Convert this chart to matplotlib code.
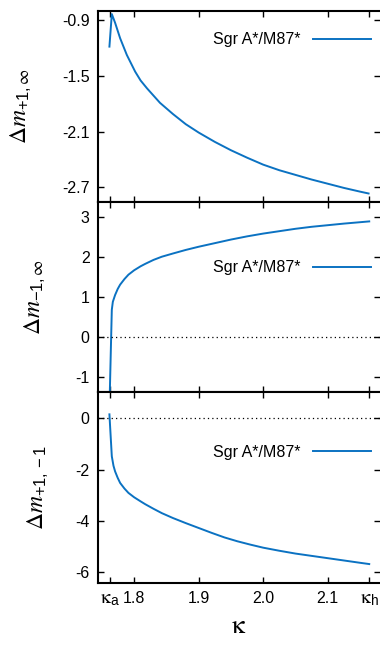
import numpy as np
import matplotlib
matplotlib.use("Agg")
import matplotlib.pyplot as plt

plt.rcParams['font.family'] = ['Liberation Sans', 'DejaVu Sans']
plt.rcParams['mathtext.fontset'] = 'stix'

# valores
kappa_a = 1.7628
kappa_h = 2.1643
leyenda = 'Sgr A*/M87*'

k1 = [1.7617, 1.7654, 1.7705, 1.7783, 1.7887, 1.8016, 1.81, 1.82, 1.84, 1.86,
      1.88, 1.90, 1.925, 1.95, 1.975, 2.00, 2.025, 2.05, 2.075, 2.10, 2.125,
      2.15, 2.1633]
d1 = [-1.186, -0.836, -0.93, -1.096, -1.276, -1.455, -1.55, -1.635, -1.79, -1.91,
      -2.02, -2.11, -2.21, -2.30, -2.38, -2.455, -2.515, -2.565, -2.615, -2.66,
      -2.705, -2.745, -2.765]

k2 = [1.7617, 1.7654, 1.767, 1.7705, 1.7745, 1.7783, 1.785, 1.7912, 1.80, 1.81,
      1.8171, 1.83, 1.8429, 1.86, 1.88, 1.90, 1.925, 1.95, 1.975, 2.00, 2.025,
      2.05, 2.075, 2.10, 2.125, 2.15, 2.1643]
d2 = [-1.8, 0.68, 0.88, 1.05, 1.20, 1.31, 1.45, 1.56, 1.67, 1.77,
      1.83, 1.93, 2.01, 2.09, 2.18, 2.26, 2.35, 2.44, 2.52, 2.59, 2.65,
      2.71, 2.76, 2.80, 2.84, 2.875, 2.895]

k3 = [1.7617, 1.7654, 1.768, 1.7705, 1.7745, 1.7783, 1.785, 1.7912, 1.80, 1.81,
      1.8171, 1.83, 1.8429, 1.86, 1.88, 1.90, 1.92, 1.94, 1.96, 1.98, 2.00,
      2.025, 2.05, 2.075, 2.10, 2.125, 2.15, 2.1643]
d3 = [0.16, -1.48, -1.85, -2.07, -2.32, -2.52, -2.74, -2.91, -3.08, -3.24,
      -3.35, -3.53, -3.70, -3.89, -4.09, -4.28, -4.47, -4.65, -4.80, -4.93, -5.05,
      -5.17, -5.28, -5.37, -5.46, -5.55, -5.64, -5.69]

xticks = [kappa_a, 1.8, 1.9, 2.0, 2.1, kappa_h]
xticklabels = [r'$\mathrm{\kappa}_{\mathregular{a}}$', '1.8', '1.9', '2.0', '2.1',
               r'$\mathrm{\kappa}_{\mathregular{h}}$']

azul = '#0b72c2'
fs = 11.5

fig = plt.figure(figsize=(3.8, 6.47), dpi=100)
gs = fig.add_gridspec(3, 1, left=98/380, right=1.0, top=1-11/647, bottom=1-583/647,
                      hspace=0)
axs = [fig.add_subplot(gs[i]) for i in range(3)]

paneles = [
    (k1, d1, (-2.853, -0.803), [-0.9, -1.5, -2.1, -2.7], ['-0.9', '-1.5', '-2.1', '-2.7'],
     r'$\Delta m_{\mathregular{+1,}\infty}$', -0.228, 0.848, False),
    (k2, d2, (-1.39, 3.39), [-1, 0, 1, 2, 3], ['-1', '0', '1', '2', '3'],
     r'$\Delta m_{\mathregular{-1,}\infty}$', -0.178, 0.654, True),
    (k3, d3, (-6.43, 1.02), [-6, -4, -2, 0], ['-6', '-4', '-2', '0'],
     r'$\Delta m_{\mathregular{+1,-1}}$', -0.168, 0.684, True),
]

for ax, (k, d, ylim, yt, ytl, ylab, lx, legy, cero) in zip(axs, paneles):
    ax.plot(k, d, color=azul, lw=1.4, label=leyenda)
    if cero:
        ax.axhline(0, color='black', lw=0.9, ls=(0, (1, 2.5)))
    ax.set_xlim(1.744, 2.181)
    ax.set_ylim(*ylim)
    ax.set_yticks(yt)
    ax.set_yticklabels(ytl, fontsize=fs)
    ax.set_xticks(xticks)
    ax.tick_params(direction='in', length=4, width=1, top=True, right=True, pad=6)
    for s in ax.spines.values():
        s.set_linewidth(1.5)
    ax.spines['right'].set_visible(False)
    ax.set_ylabel(ylab, fontsize=17)
    ax.yaxis.set_label_coords(lx, 0.5)
    ax.legend(loc='center right', bbox_to_anchor=(0.968, legy), frameon=False,
              markerfirst=False, fontsize=fs, handlelength=3.6, handletextpad=0.8,
              borderpad=0, borderaxespad=0)

for ax in axs[:2]:
    ax.set_xticklabels([])
axs[2].set_xticklabels(xticklabels, fontsize=fs)
etiquetas = axs[2].get_xticklabels()
etiquetas[0].set_fontsize(14)
etiquetas[-1].set_fontsize(14)
axs[2].set_xlabel(r'$\mathrm{\kappa}$', fontsize=19, labelpad=4)

fig.savefig('out.png', dpi=100)
